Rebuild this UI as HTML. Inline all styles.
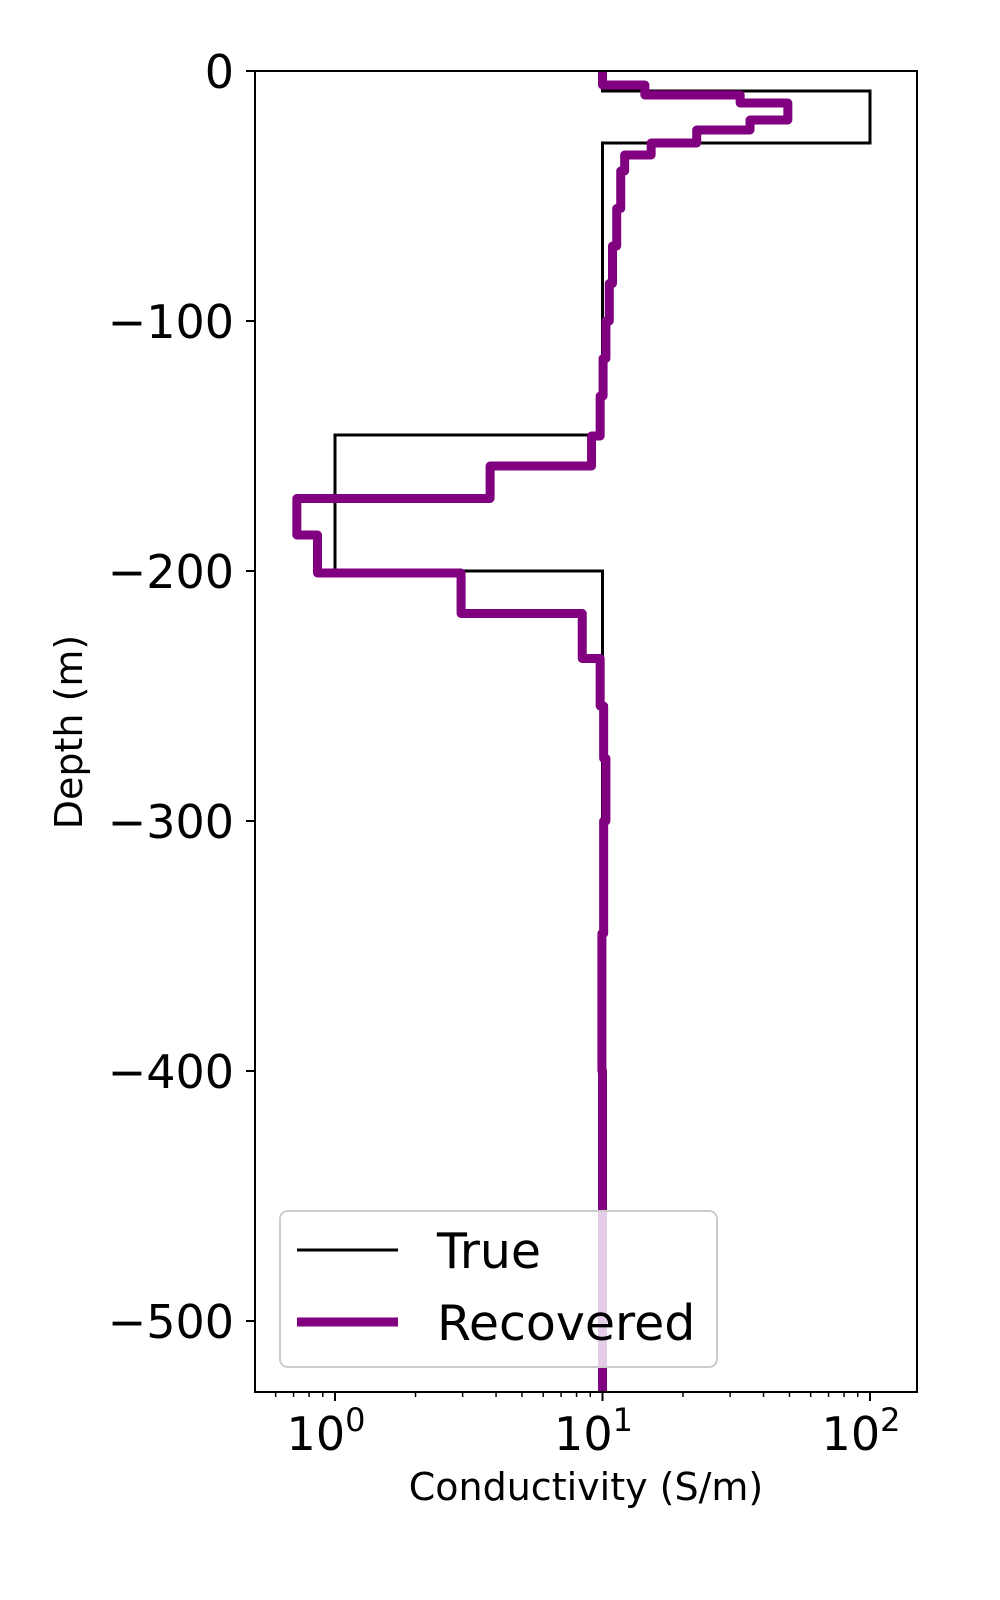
<!DOCTYPE html>
<html><head><meta charset="utf-8"><style>
html,body{margin:0;padding:0;background:#fff;}
svg{display:block;font-family:"DejaVu Sans","Liberation Sans",sans-serif;}
</style></head><body>
<svg id="chart" width="1000" height="1600" viewBox="0 0 1000 1600"></svg>
<script>
const trueDepths = [0, -8, -28.8, -145.6, -200, -528];
const trueValues = [10, 100, 10, 1, 10];
const recDepths = [0, -5.6, -9.6, -12.8, -19.6, -23.6, -28.8, -33.6, -40, -55, -70, -85, -100, -115, -130, -146, -158, -171, -185.6, -200.8, -217, -235, -254, -275, -300, -345, -400, -528];
const recValues = [10, 14.4, 32.7, 49.3, 35.6, 22.5, 15.2, 12.1, 11.7, 11.3, 10.9, 10.6, 10.3, 10.05, 9.8, 9.1, 3.8, 0.72, 0.86, 2.96, 8.4, 9.8, 10.1, 10.3, 10.1, 9.95, 10.0];
const yTicks = [0, -100, -200, -300, -400, -500];
const yTickLabels = ["0", "\u2212100", "\u2212200", "\u2212300", "\u2212400", "\u2212500"];
const xTicks = [1, 10, 100];
const xTickLabels = ["0", "1", "2"];

const L=255,R=917,T=71,B=1392;
const X=v=>335+267.5*Math.log10(v);
const Y=d=>T-2.5*d;
const svg=document.getElementById('chart');
const NS='http://www.w3.org/2000/svg';
function mk(tag,attrs,parent){const e=document.createElementNS(NS,tag);for(const k in attrs)e.setAttribute(k,attrs[k]);(parent||svg).appendChild(e);return e;}
function stepPath(depths,vals){let s='';for(let i=0;i<vals.length;i++){const x=X(vals[i]);s+=(i?'L':'M')+x+','+Y(depths[i])+'L'+x+','+Y(depths[i+1]);}return s;}

const clip=mk('clipPath',{id:'pc'});mk('rect',{x:L,y:T,width:R-L,height:B-T},clip);
const t=mk('path',{d:stepPath(trueDepths,trueValues),fill:'none',stroke:'#000','stroke-width':3,'clip-path':'url(#pc)'});


const r=mk('path',{d:stepPath(recDepths,recValues),fill:'none',stroke:'#800080','stroke-width':9,'stroke-linejoin':'round','stroke-linecap':'round','clip-path':'url(#pc)'});



const frame=mk('rect',{x:L,y:T,width:R-L,height:B-T,fill:'none',stroke:'#000','stroke-width':2});



yTicks.forEach((d,i)=>{
  mk('line',{x1:L-9,x2:L,y1:Y(d),y2:Y(d),stroke:'#000','stroke-width':2});
  const tx=mk('text',{x:L-21,y:Y(d)+17,'text-anchor':'end','font-size':46});
  tx.textContent=yTickLabels[i];
  
  
});
xTicks.forEach((v,i)=>{
  mk('line',{x1:X(v),x2:X(v),y1:B,y2:B+9,stroke:'#000','stroke-width':2});
  const tx=mk('text',{x:X(v)-9,y:B+58,'text-anchor':'middle','font-size':46});
  tx.textContent='10';
  const sp=mk('tspan',{dy:-19,'font-size':32},tx);sp.textContent=xTickLabels[i];
  
  
});
for(let dec=-1;dec<=2;dec++){for(let m=2;m<=9;m++){const v=m*Math.pow(10,dec);const x=X(v);if(x<L||x>R)continue;mk('line',{x1:x,x2:x,y1:B,y2:B+5,stroke:'#000','stroke-width':1.5});}}

const xl=mk('text',{x:586,y:1500,'text-anchor':'middle','font-size':38});xl.textContent='Conductivity (S/m)';

const yl=mk('text',{x:0,y:0,'text-anchor':'middle','font-size':38,transform:'translate(82,732) rotate(-90)'});yl.textContent='Depth (m)';


const lg=mk('g',{});
mk('rect',{x:280,y:1211,width:437,height:156,rx:8,fill:'#fff','fill-opacity':0.8,stroke:'#ccc','stroke-width':2},lg);
mk('line',{x1:297,x2:398,y1:1250,y2:1250,stroke:'#000','stroke-width':3},lg);
mk('line',{x1:297,x2:398,y1:1322,y2:1322,stroke:'#800080','stroke-width':9},lg);
const l1=mk('text',{x:437,y:1268,'font-size':49},lg);l1.textContent='True';

const l2=mk('text',{x:437,y:1340,'font-size':49},lg);l2.textContent='Recovered';

</script>
</body></html>
